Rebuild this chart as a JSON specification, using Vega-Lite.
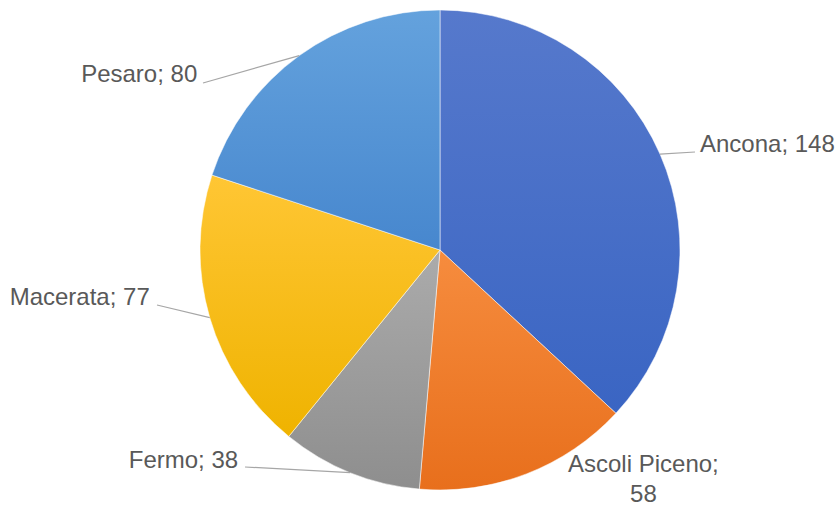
{
  "$schema": "https://vega.github.io/schema/vega-lite/v6.json",
  "width": 800,
  "height": 500,
  "padding": {"left": 40, "top": 0, "right": 0, "bottom": 11},
  "autosize": {"type": "none"},
  "background": "white",
  "config": {"view": {"stroke": null}},
  "data": {"values": [
    {"name": "Ancona", "value": 148, "label": "Ancona; 148"},
    {"name": "Ascoli Piceno", "value": 58, "label": ["Ascoli Piceno;", "58"]},
    {"name": "Fermo", "value": 38, "label": "Fermo; 38"},
    {"name": "Macerata", "value": 77, "label": "Macerata; 77"},
    {"name": "Pesaro", "value": 80, "label": "Pesaro; 80"}
  ]},
  "transform": [
    {"stack": "value", "groupby": [], "as": ["s0", "s1"]},
    {"calculate": "(datum.s0 + datum.s1) / 2", "as": "mid"}
  ],
  "layer": [
    {
      "transform": [{"filter": "datum.name === 'Ancona'"}],
      "mark": {"type": "arc", "outerRadius": 240, "stroke": "#ffffff", "strokeWidth": 1, "strokeOpacity": 0.5,
        "fill": {"gradient": "linear", "x1": 0, "y1": 0, "x2": 0, "y2": 1, "stops": [{"offset": 0, "color": "#5679cc"}, {"offset": 1, "color": "#3a65c3"}]}},
      "encoding": {"theta": {"field": "s0", "type": "quantitative", "scale": {"domain": [0, 401]}}, "theta2": {"field": "s1"}}
    },
    {
      "transform": [{"filter": "datum.name === 'Ascoli Piceno'"}],
      "mark": {"type": "arc", "outerRadius": 240, "stroke": "#ffffff", "strokeWidth": 1, "strokeOpacity": 0.5,
        "fill": {"gradient": "linear", "x1": 0, "y1": 0, "x2": 0, "y2": 1, "stops": [{"offset": 0, "color": "#f68c3e"}, {"offset": 1, "color": "#e86f1c"}]}},
      "encoding": {"theta": {"field": "s0", "type": "quantitative"}, "theta2": {"field": "s1"}}
    },
    {
      "transform": [{"filter": "datum.name === 'Fermo'"}],
      "mark": {"type": "arc", "outerRadius": 240, "stroke": "#ffffff", "strokeWidth": 1, "strokeOpacity": 0.5,
        "fill": {"gradient": "linear", "x1": 0, "y1": 0, "x2": 0, "y2": 1, "stops": [{"offset": 0, "color": "#ababab"}, {"offset": 1, "color": "#8e8e8e"}]}},
      "encoding": {"theta": {"field": "s0", "type": "quantitative"}, "theta2": {"field": "s1"}}
    },
    {
      "transform": [{"filter": "datum.name === 'Macerata'"}],
      "mark": {"type": "arc", "outerRadius": 240, "stroke": "#ffffff", "strokeWidth": 1, "strokeOpacity": 0.5,
        "fill": {"gradient": "linear", "x1": 0, "y1": 0, "x2": 0, "y2": 1, "stops": [{"offset": 0, "color": "#ffc634"}, {"offset": 1, "color": "#efb300"}]}},
      "encoding": {"theta": {"field": "s0", "type": "quantitative"}, "theta2": {"field": "s1"}}
    },
    {
      "transform": [{"filter": "datum.name === 'Pesaro'"}],
      "mark": {"type": "arc", "outerRadius": 240, "stroke": "#ffffff", "strokeWidth": 1, "strokeOpacity": 0.5,
        "fill": {"gradient": "linear", "x1": 0, "y1": 0, "x2": 0, "y2": 1, "stops": [{"offset": 0, "color": "#64a2dd"}, {"offset": 1, "color": "#4787ce"}]}},
      "encoding": {"theta": {"field": "s0", "type": "quantitative"}, "theta2": {"field": "s1"}}
    },
    {
      "transform": [
        {"filter": "datum.name !== 'Ascoli Piceno'"},
        {"calculate": "PI * datum.mid / 200.5", "as": "a"},
        {"calculate": "240 * sin(datum.a)", "as": "ex"},
        {"calculate": "240 * cos(datum.a)", "as": "ey"},
        {"calculate": "datum.name === 'Ancona' ? 255 : datum.name === 'Pesaro' ? -237 : datum.name === 'Macerata' ? -283 : -195", "as": "lx"},
        {"calculate": "datum.name === 'Ancona' ? 98 : datum.name === 'Pesaro' ? 167 : datum.name === 'Macerata' ? -55 : -217", "as": "ly"}
      ],
      "mark": {"type": "rule", "color": "#a6a6a6", "strokeWidth": 1.2},
      "encoding": {
        "x": {"field": "ex", "type": "quantitative", "scale": {"domain": [-400, 400], "nice": false, "zero": false}, "axis": null},
        "y": {"field": "ey", "type": "quantitative", "scale": {"domain": [-250, 250], "nice": false, "zero": false}, "axis": null},
        "x2": {"field": "lx"},
        "y2": {"field": "ly"}
      }
    },
    {
      "transform": [{"filter": "datum.name === 'Ancona'"}],
      "mark": {"type": "text", "radius": 240, "align": "left", "baseline": "alphabetic", "dx": 40, "dy": -2, "font": "Liberation Sans", "fontSize": 24, "color": "#595959"},
      "encoding": {"theta": {"field": "mid", "type": "quantitative"}, "text": {"field": "label"}}
    },
    {
      "transform": [{"filter": "datum.name === 'Ascoli Piceno'"}],
      "mark": {"type": "text", "radius": 240, "align": "center", "baseline": "alphabetic", "dx": 117, "dy": -2, "lineHeight": 30, "font": "Liberation Sans", "fontSize": 24, "color": "#595959"},
      "encoding": {"theta": {"field": "mid", "type": "quantitative"}, "text": {"field": "label"}}
    },
    {
      "transform": [{"filter": "datum.name === 'Fermo'"}],
      "mark": {"type": "text", "radius": 240, "align": "right", "baseline": "alphabetic", "dx": -112, "dy": -5, "font": "Liberation Sans", "fontSize": 24, "color": "#595959"},
      "encoding": {"theta": {"field": "mid", "type": "quantitative"}, "text": {"field": "label"}}
    },
    {
      "transform": [{"filter": "datum.name === 'Macerata'"}],
      "mark": {"type": "text", "radius": 240, "align": "right", "baseline": "alphabetic", "dx": -60, "dy": -13, "font": "Liberation Sans", "fontSize": 24, "color": "#595959"},
      "encoding": {"theta": {"field": "mid", "type": "quantitative"}, "text": {"field": "label"}}
    },
    {
      "transform": [{"filter": "datum.name === 'Pesaro'"}],
      "mark": {"type": "text", "radius": 240, "align": "right", "baseline": "alphabetic", "dx": -102, "dy": 26, "font": "Liberation Sans", "fontSize": 24, "color": "#595959"},
      "encoding": {"theta": {"field": "mid", "type": "quantitative"}, "text": {"field": "label"}}
    }
  ]
}
